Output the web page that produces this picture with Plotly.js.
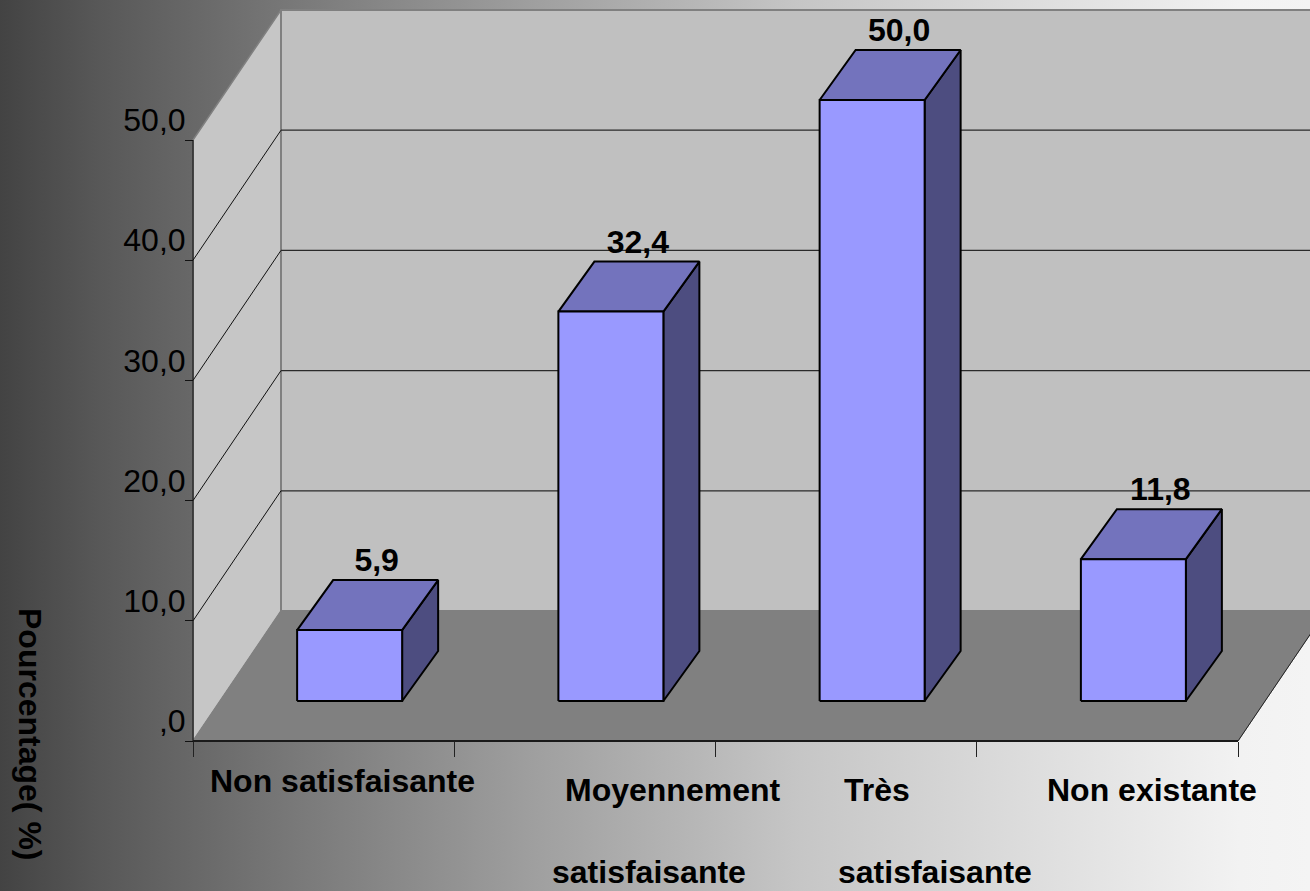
<!DOCTYPE html>
<html>
<head>
<meta charset="utf-8">
<script src="https://cdn.plot.ly/plotly-3.0.1.min.js"></script>
<style>
  html, body { margin: 0; padding: 0; width: 1310px; height: 891px; overflow: hidden; }
  body {
    background: linear-gradient(to right, #434343 0, #585858 100px, #737373 260px, #a0a0a0 540px,
      #c6c6c6 800px, #dedede 1040px, #f2f2f2 1240px, #f4f4f4 1310px);
  }
  #chart { width: 1310px; height: 891px; }
</style>
</head>
<body>
<div id="chart"></div>
<script>
// Survey answers and their share in percent
const categories = ['Non satisfaisante', 'Moyennement satisfaisante', 'Très satisfaisante', 'Non existante'];
const percentages = [5.9, 32.4, 50.0, 11.8];
const valueLabels = ['5,9', '32,4', '50,0', '11,8'];
const yTickValues = [0, 10, 20, 30, 40, 50];
const yTickLabels = [',0', '10,0', '20,0', '30,0', '40,0', '50,0'];
const xTickValues = [0, 1, 2, 3, 4];

// Category text broken into the lines it is shown on
const categoryLines = ['Non satisfaisante', 'Moyennement', 'satisfaisante', 'Très', 'satisfaisante', 'Non existante'];
const categoryLineX = [342, 672, 648.5, 877, 934.5, 1152];
const categoryLineY = [781, 790, 872, 790, 872, 790];

const W = 1310, H = 891;
const pxPerCat = 261.25, pxPerUnit = 12.02;
const originX = 193, originY = 741;

// Oblique projection used to fake the depth of the box and bars, in axis units
const wallDX = 88 / pxPerCat, wallDY = 130 / pxPerUnit;
const barShiftX = 26 / pxPerCat, barShiftY = 40 / pxPerUnit;
const barDepthX = 36 / pxPerCat, barDepthY = 50 / pxPerUnit;
const barWidth = 105 / pxPerCat;
const nCats = categories.length, yMax = 50;

const poly = (pts, fill, line, width) => ({
  type: 'scatter', mode: 'lines', x: pts.map(p => p[0]), y: pts.map(p => p[1]),
  fill: fill ? 'toself' : 'none', fillcolor: fill || undefined,
  line: { color: line || fill, width: width === undefined ? 1 : width },
  hoverinfo: 'skip', showlegend: false
});

const traces = [];

// Side wall, back wall and floor
traces.push(poly([[0, 0], [wallDX, wallDY], [wallDX, yMax + wallDY], [0, yMax], [0, 0]], '#c6c6c6', '#808080', 1.5));
traces.push(poly([[wallDX, wallDY], [nCats + wallDX, wallDY], [nCats + wallDX, yMax + wallDY], [wallDX, yMax + wallDY], [wallDX, wallDY]], '#c0c0c0', '#808080', 2));
traces.push(poly([[0, 0], [nCats, 0], [nCats + wallDX, wallDY], [wallDX, wallDY], [0, 0]], '#808080', '#808080', 1));

// Gridlines run along the side wall, then across the back wall
yTickValues.filter(v => v > 0 && v < yMax).forEach(v => {
  traces.push(poly([[0, v], [wallDX, v + wallDY]], null, '#111111', 1));
  traces.push(poly([[wallDX, v + wallDY], [nCats + wallDX, v + wallDY]], null, '#2a2a2a', 1.2));
});

// Front edges of the box
traces.push(poly([[0, 0], [0, yMax]], null, '#111111', 1.2));
traces.push(poly([[0, 0], [nCats, 0]], null, '#1a1a1a', 2));
traces.push(poly([[nCats, 0], [nCats + wallDX, wallDY]], null, '#222222', 1));

// One box per category: side, top, then front face
percentages.forEach((v, i) => {
  const l = i + 0.5 + barShiftX - barWidth / 2, r = l + barWidth;
  const b = barShiftY, t = barShiftY + v;
  traces.push(poly([[r, b], [r + barDepthX, b + barDepthY], [r + barDepthX, t + barDepthY], [r, t], [r, b]], '#4d4d80', '#000000', 2));
  traces.push(poly([[l, t], [l + barDepthX, t + barDepthY], [r + barDepthX, t + barDepthY], [r, t], [l, t]], '#7373bd', '#000000', 2));
  traces.push(poly([[l, b], [r, b], [r, t], [l, t], [l, b]], '#9999ff', '#000000', 2));
});

// Value labels above each box
traces.push({
  type: 'scatter', mode: 'text',
  x: percentages.map((v, i) => i + 0.5 + barShiftX + 27 / pxPerCat),
  y: percentages.map(v => v + barShiftY + barDepthY + 17 / pxPerUnit),
  text: valueLabels, textposition: 'middle center',
  textfont: { family: 'Liberation Sans', size: 32, color: '#000000', weight: 700 },
  hoverinfo: 'skip', showlegend: false
});

const annotations = categoryLines.map((t, i) => ({
  text: '<b>' + t + '</b>', showarrow: false,
  xref: 'paper', yref: 'paper', x: categoryLineX[i] / W, y: 1 - categoryLineY[i] / H,
  xanchor: 'center', yanchor: 'middle',
  font: { family: 'Liberation Sans', size: 32, color: '#000000' }
}));
annotations.push({
  text: '<b>Pourcentage( %)</b>', showarrow: false, textangle: 90,
  xref: 'paper', yref: 'paper', x: 30 / W, y: 1 - 734 / H,
  xanchor: 'center', yanchor: 'middle',
  font: { family: 'Liberation Sans', size: 32, color: '#000000' }
});

const layout = {
  width: W, height: H,
  margin: { l: 0, r: 0, t: 0, b: 0 },
  paper_bgcolor: 'rgba(0,0,0,0)', plot_bgcolor: 'rgba(0,0,0,0)',
  showlegend: false,
  xaxis: {
    range: [-originX / pxPerCat, (W - originX) / pxPerCat],
    anchor: 'free', position: (H - originY) / H,
    showgrid: false, zeroline: false, showline: false, showticklabels: false,
    tickmode: 'array', tickvals: xTickValues, ticks: 'outside', ticklen: 15, tickwidth: 1, tickcolor: '#222222',
    fixedrange: true
  },
  yaxis: {
    range: [(originY - H) / pxPerUnit, originY / pxPerUnit],
    anchor: 'free', position: originX / W,
    showgrid: false, zeroline: false, showline: false,
    tickmode: 'array', tickvals: yTickValues, ticktext: yTickLabels,
    ticks: 'outside', ticklen: 8, tickwidth: 1, tickcolor: '#111111',
    ticklabelshift: -20, ticklabelstandoff: -7,
    tickfont: { family: 'Liberation Sans', size: 32, color: '#000000' },
    fixedrange: true
  },
  annotations
};

Plotly.newPlot('chart', traces, layout, { displayModeBar: false, staticPlot: true });
</script>
</body>
</html>
